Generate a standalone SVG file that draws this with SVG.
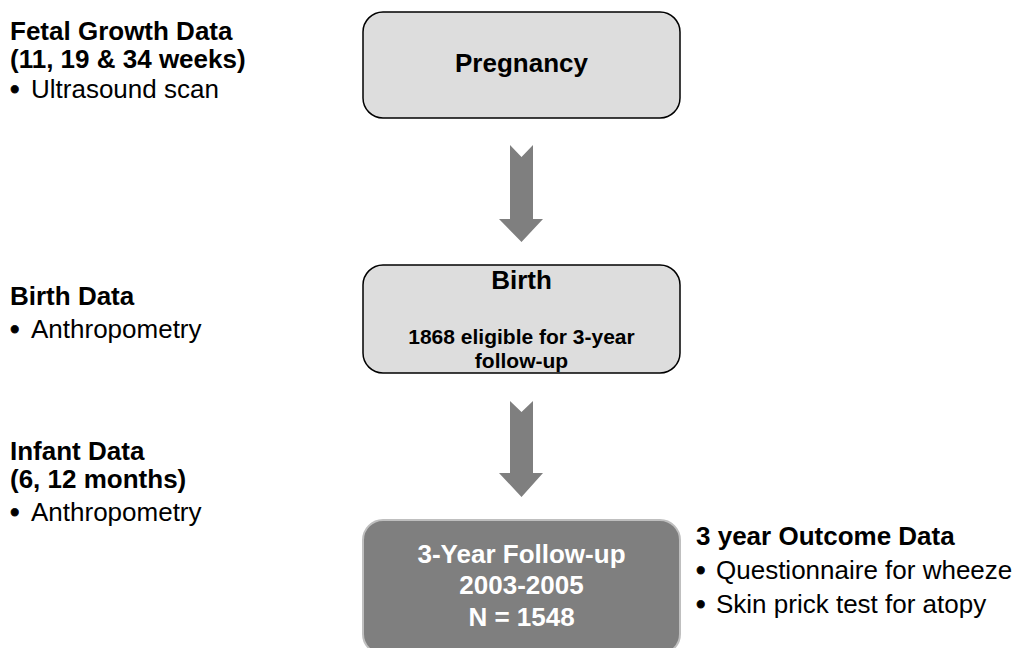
<svg xmlns="http://www.w3.org/2000/svg" width="1022" height="648" viewBox="0 0 1022 648">
<defs>
<style>
text{font-family:"Liberation Sans",Arial,sans-serif;fill:#000}
.b{font-weight:bold}
.h{font-size:26px;font-weight:bold}
.r{font-size:26px}
.dot{font-size:27px;stroke:#000;stroke-width:0.8}
.c{text-anchor:middle}
.box{fill:#dddddd;stroke:#000;stroke-width:1.5}
.dark{fill:#7f7f7f;stroke:#bfbfbf;stroke-width:2}
.arrow{fill:#7f7f7f}
.w{fill:#fff}
</style>
</defs>
<rect width="1022" height="648" fill="#fff"/>
<g id="connectors">
<polygon class="arrow" points="510,145 521.5,157 533,145 533,219 543,219 521.5,242 499,219 510,219"/>
<polygon class="arrow" points="510,401 521.5,412 533,401 533,473 543,473 521.5,497 499,473 510,473"/>
</g>
<g id="pregnancy">
<rect class="box" x="363" y="12" width="317" height="106" rx="20"/>
<text class="h c" x="521.5" y="72">Pregnancy</text>
</g>
<g id="birth">
<rect class="box" x="363" y="265" width="317" height="108" rx="20"/>
<text class="h c" x="521.5" y="289">Birth</text>
<text class="b c" font-size="21" x="521.5" y="344">1868 eligible for 3-year</text>
<text class="b c" font-size="21" x="521.5" y="368">follow-up</text>
</g>
<g id="followup">
<rect class="dark" x="363" y="520" width="317" height="134" rx="20"/>
<text class="h c w" x="521.5" y="563">3-Year Follow-up</text>
<text class="h c w" x="521.5" y="594">2003-2005</text>
<text class="h c w" x="521.5" y="626">N = 1548</text>
</g>
<g id="fetal-data">
<text class="h" x="10" y="40">Fetal Growth Data</text>
<text class="h" x="10" y="68">(11, 19 &amp; 34 weeks)</text>
<text class="dot" x="10" y="98">•</text>
<text class="r" x="31" y="98">Ultrasound scan</text>
</g>
<g id="birth-data">
<text class="h" x="10" y="305">Birth Data</text>
<text class="dot" x="10" y="338">•</text>
<text class="r" x="31" y="338">Anthropometry</text>
</g>
<g id="infant-data">
<text class="h" x="10" y="460">Infant Data</text>
<text class="h" x="10" y="488">(6, 12 months)</text>
<text class="dot" x="10" y="521">•</text>
<text class="r" x="31" y="521">Anthropometry</text>
</g>
<g id="outcome-data">
<text class="h" x="696" y="545">3 year Outcome Data</text>
<text class="dot" x="696" y="579">•</text>
<text class="r" x="716" y="579">Questionnaire for wheeze</text>
<text class="dot" x="696" y="613">•</text>
<text class="r" x="716" y="613">Skin prick test for atopy</text>
</g>
</svg>
